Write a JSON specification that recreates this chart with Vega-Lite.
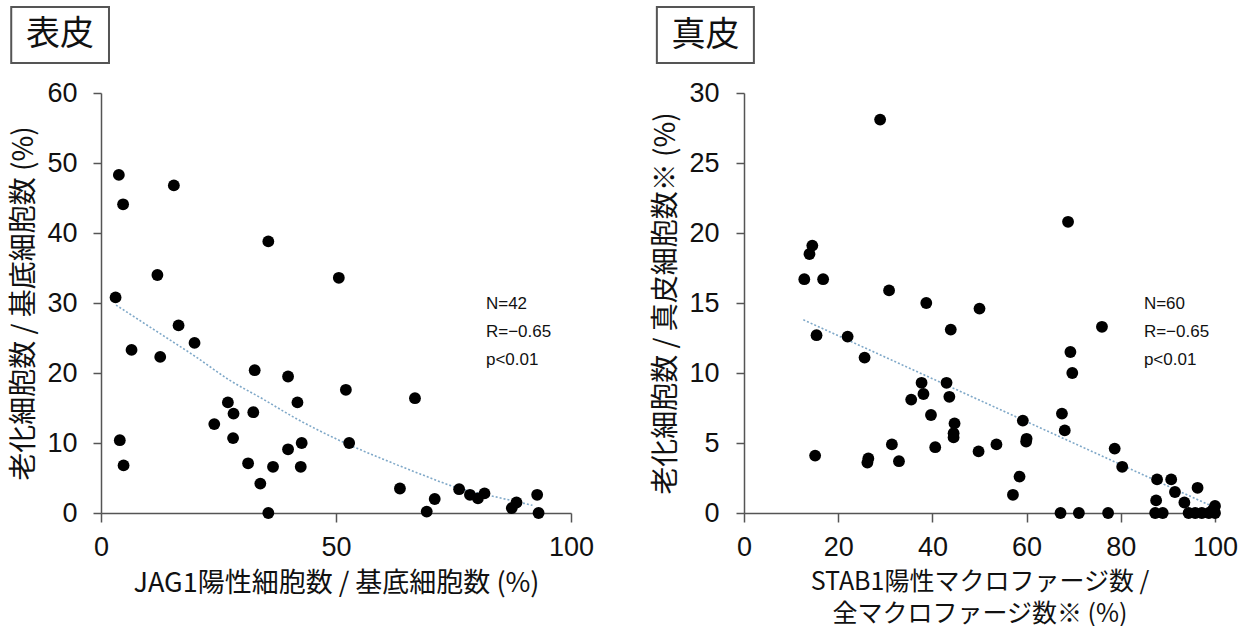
{
  "$schema": "https://vega.github.io/schema/vega-lite/v6.json",
  "padding": {"left": 10, "top": 5, "right": 5, "bottom": 0},
  "background": "white",
  "spacing": 58,
  "config": {
    "view": {"stroke": null},
    "axis": {
      "grid": false,
      "domainColor": "#555",
      "tickColor": "#555",
      "domainWidth": 1.5,
      "tickWidth": 1.5,
      "labelFont": "Liberation Sans",
      "labelFontSize": 27,
      "labelColor": "#111",
      "labelFlush": false,
      "titleFont": "Noto Sans CJK JP",
      "titleFontSize": 27,
      "titleFontWeight": "normal",
      "titleColor": "#111"
    }
  },
  "hconcat": [
    {
      "width": 470,
      "height": 420,
      "data": {"values": [
        {"x": 3.1, "y": 30.8}, {"x": 3.8, "y": 48.3}, {"x": 4.7, "y": 44.1}, {"x": 15.5, "y": 46.8},
        {"x": 35.6, "y": 38.8}, {"x": 12.0, "y": 34.0}, {"x": 50.6, "y": 33.6},
        {"x": 4.0, "y": 10.4}, {"x": 4.8, "y": 6.8}, {"x": 6.5, "y": 23.3}, {"x": 12.6, "y": 22.3},
        {"x": 16.5, "y": 26.8}, {"x": 19.9, "y": 24.3}, {"x": 24.1, "y": 12.7}, {"x": 27.0, "y": 15.8},
        {"x": 28.2, "y": 14.2}, {"x": 28.1, "y": 10.7}, {"x": 31.3, "y": 7.1}, {"x": 32.7, "y": 20.4},
        {"x": 32.4, "y": 14.4}, {"x": 33.9, "y": 4.2}, {"x": 35.6, "y": 0}, {"x": 36.6, "y": 6.6},
        {"x": 39.8, "y": 19.5}, {"x": 39.8, "y": 9.1}, {"x": 41.8, "y": 15.8}, {"x": 42.7, "y": 10.0},
        {"x": 42.5, "y": 6.6}, {"x": 52.1, "y": 17.6}, {"x": 52.8, "y": 10.0}, {"x": 63.6, "y": 3.5},
        {"x": 66.8, "y": 16.4}, {"x": 69.3, "y": 0.2}, {"x": 71.0, "y": 2.0}, {"x": 76.2, "y": 3.4},
        {"x": 78.5, "y": 2.6}, {"x": 80.2, "y": 2.1}, {"x": 81.6, "y": 2.8}, {"x": 87.4, "y": 0.7},
        {"x": 88.4, "y": 1.5}, {"x": 92.8, "y": 2.6}, {"x": 93.1, "y": 0}
      ]},
      "layer": [
        {
          "data": {"values": [
            {"x": 3.2, "y": 29.7}, {"x": 13.1, "y": 25.4}, {"x": 20.2, "y": 22.3}, {"x": 27.3, "y": 19.0},
            {"x": 34.4, "y": 16.3}, {"x": 41.5, "y": 13.5}, {"x": 50.0, "y": 10.6}, {"x": 60.7, "y": 7.5},
            {"x": 67.8, "y": 5.6}, {"x": 76.3, "y": 3.5}, {"x": 84.0, "y": 2.3}, {"x": 91.8, "y": 1.1}
          ]},
          "mark": {"type": "line", "color": "#7fa8c8", "strokeWidth": 1.6, "strokeDash": [2, 2], "interpolate": "monotone"},
          "encoding": {
            "x": {"field": "x", "type": "quantitative",
                  "scale": {"domain": [0, 100], "nice": false},
                  "axis": {"values": [0, 50, 100], "tickSize": 9, "labelPadding": 12, "titlePadding": 10,
                           "title": "JAG1陽性細胞数 / 基底細胞数 (%)"}},
            "y": {"field": "y", "type": "quantitative",
                  "scale": {"domain": [0, 60], "nice": false},
                  "axis": {"values": [0, 10, 20, 30, 40, 50, 60], "tickSize": 8, "labelPadding": 16, "titlePadding": 8,
                           "titleFontSize": 28,
                           "title": "老化細胞数 / 基底細胞数 (%)"}}
          }
        },
        {
          "mark": {"type": "circle", "size": 140, "color": "#000", "opacity": 1},
          "encoding": {
            "x": {"field": "x", "type": "quantitative",
                  "scale": {"domain": [0, 100], "nice": false},
                  "axis": {"values": [0, 50, 100], "tickSize": 9, "labelPadding": 12, "titlePadding": 10,
                           "title": "JAG1陽性細胞数 / 基底細胞数 (%)"}},
            "y": {"field": "y", "type": "quantitative",
                  "scale": {"domain": [0, 60], "nice": false},
                  "axis": {"values": [0, 10, 20, 30, 40, 50, 60], "tickSize": 8, "labelPadding": 16, "titlePadding": 8,
                           "titleFontSize": 28,
                           "title": "老化細胞数 / 基底細胞数 (%)"}}
          }
        },
        {
          "data": {"values": [{"t": "N=42\nR=−0.65\np<0.01"}]},
          "mark": {"type": "text", "align": "left", "baseline": "top", "font": "Liberation Sans",
                   "fontSize": 17, "lineHeight": 28, "lineBreak": "\n", "color": "#111"},
          "encoding": {
            "x": {"datum": 81.9},
            "y": {"datum": 31.0},
            "text": {"field": "t"}
          }
        },
        {
          "data": {"values": [{"t": "表皮"}]},
          "mark": {"type": "rect", "fill": "transparent", "stroke": "#555", "strokeWidth": 2},
          "encoding": {
            "x": {"datum": -19.1},
            "x2": {"datum": 1.7},
            "y": {"datum": 72.3},
            "y2": {"datum": 64.3}
          }
        },
        {
          "data": {"values": [{"t": "表皮"}]},
          "mark": {"type": "text", "font": "Noto Sans CJK JP", "fontSize": 34, "color": "#111", "baseline": "middle", "align": "center"},
          "encoding": {
            "x": {"datum": -8.7},
            "y": {"datum": 68.3},
            "text": {"field": "t"}
          }
        }
      ]
    },
    {
      "width": 471,
      "height": 420,
      "data": {"values": [
        {"x": 28.9, "y": 28.1}, {"x": 68.8, "y": 20.8}, {"x": 14.5, "y": 19.1}, {"x": 13.9, "y": 18.5},
        {"x": 12.8, "y": 16.7}, {"x": 16.8, "y": 16.7}, {"x": 30.8, "y": 15.9}, {"x": 38.7, "y": 15.0},
        {"x": 50.0, "y": 14.6},
        {"x": 76.0, "y": 13.3}, {"x": 15.4, "y": 12.7}, {"x": 22.0, "y": 12.6}, {"x": 43.9, "y": 13.1},
        {"x": 25.6, "y": 11.1}, {"x": 69.3, "y": 11.5}, {"x": 69.7, "y": 10.0}, {"x": 37.7, "y": 9.3},
        {"x": 43.0, "y": 9.3}, {"x": 38.1, "y": 8.5}, {"x": 43.6, "y": 8.3}, {"x": 35.5, "y": 8.1},
        {"x": 39.7, "y": 7.0}, {"x": 59.2, "y": 6.6}, {"x": 67.5, "y": 7.1}, {"x": 44.7, "y": 6.4},
        {"x": 44.5, "y": 5.7}, {"x": 44.5, "y": 5.4}, {"x": 60.0, "y": 5.3}, {"x": 59.9, "y": 5.1},
        {"x": 68.1, "y": 5.9}, {"x": 31.4, "y": 4.9}, {"x": 40.6, "y": 4.7}, {"x": 53.6, "y": 4.9},
        {"x": 49.8, "y": 4.4}, {"x": 78.7, "y": 4.6}, {"x": 15.1, "y": 4.1}, {"x": 26.4, "y": 3.9},
        {"x": 26.2, "y": 3.6}, {"x": 32.9, "y": 3.7}, {"x": 80.3, "y": 3.3}, {"x": 58.5, "y": 2.6},
        {"x": 57.1, "y": 1.3}, {"x": 87.7, "y": 2.4}, {"x": 90.7, "y": 2.4}, {"x": 87.5, "y": 0.9},
        {"x": 91.5, "y": 1.5}, {"x": 96.3, "y": 1.8}, {"x": 93.5, "y": 0.75}, {"x": 100.0, "y": 0.5},
        {"x": 99.5, "y": 0.2},
        {"x": 67.2, "y": 0}, {"x": 71.1, "y": 0}, {"x": 77.3, "y": 0}, {"x": 87.3, "y": 0},
        {"x": 88.9, "y": 0}, {"x": 94.4, "y": 0}, {"x": 95.8, "y": 0}, {"x": 97.2, "y": 0},
        {"x": 98.7, "y": 0}, {"x": 100.0, "y": 0}
      ]},
      "layer": [
        {
          "data": {"values": [{"x": 12.6, "y": 13.8}, {"x": 99.4, "y": 0.48}]},
          "mark": {"type": "line", "color": "#7fa8c8", "strokeWidth": 1.6, "strokeDash": [2, 2]},
          "encoding": {
            "x": {"field": "x", "type": "quantitative",
                  "scale": {"domain": [0, 100], "nice": false},
                  "axis": {"values": [0, 20, 40, 60, 80, 100], "tickSize": 9, "labelPadding": 12, "titlePadding": 9,
                           "titleLineHeight": 32, "titleFontSize": 25,
                           "title": ["STAB1陽性マクロファージ数 /", "全マクロファージ数※ (%)"]}},
            "y": {"field": "y", "type": "quantitative",
                  "scale": {"domain": [0, 30], "nice": false},
                  "axis": {"values": [0, 5, 10, 15, 20, 25, 30], "tickSize": 8, "labelPadding": 17, "titlePadding": 8,
                           "titleFontSize": 28,
                           "title": "老化細胞数 / 真皮細胞数※ (%)"}}
          }
        },
        {
          "mark": {"type": "circle", "size": 140, "color": "#000", "opacity": 1},
          "encoding": {
            "x": {"field": "x", "type": "quantitative",
                  "scale": {"domain": [0, 100], "nice": false},
                  "axis": {"values": [0, 20, 40, 60, 80, 100], "tickSize": 9, "labelPadding": 12, "titlePadding": 9,
                           "titleLineHeight": 32, "titleFontSize": 25,
                           "title": ["STAB1陽性マクロファージ数 /", "全マクロファージ数※ (%)"]}},
            "y": {"field": "y", "type": "quantitative",
                  "scale": {"domain": [0, 30], "nice": false},
                  "axis": {"values": [0, 5, 10, 15, 20, 25, 30], "tickSize": 8, "labelPadding": 17, "titlePadding": 8,
                           "titleFontSize": 28,
                           "title": "老化細胞数 / 真皮細胞数※ (%)"}}
          }
        },
        {
          "data": {"values": [{"t": "N=60\nR=−0.65\np<0.01"}]},
          "mark": {"type": "text", "align": "left", "baseline": "top", "font": "Liberation Sans",
                   "fontSize": 17, "lineHeight": 28, "lineBreak": "\n", "color": "#111"},
          "encoding": {
            "x": {"datum": 84.9},
            "y": {"datum": 15.5},
            "text": {"field": "t"}
          }
        },
        {
          "data": {"values": [{"t": "真皮"}]},
          "mark": {"type": "rect", "fill": "transparent", "stroke": "#555", "strokeWidth": 2},
          "encoding": {
            "x": {"datum": -18.5},
            "x2": {"datum": 2.1},
            "y": {"datum": 36.14},
            "y2": {"datum": 32.14}
          }
        },
        {
          "data": {"values": [{"t": "真皮"}]},
          "mark": {"type": "text", "font": "Noto Sans CJK JP", "fontSize": 34, "color": "#111", "baseline": "middle", "align": "center"},
          "encoding": {
            "x": {"datum": -8.2},
            "y": {"datum": 34.1},
            "text": {"field": "t"}
          }
        }
      ]
    }
  ]
}
